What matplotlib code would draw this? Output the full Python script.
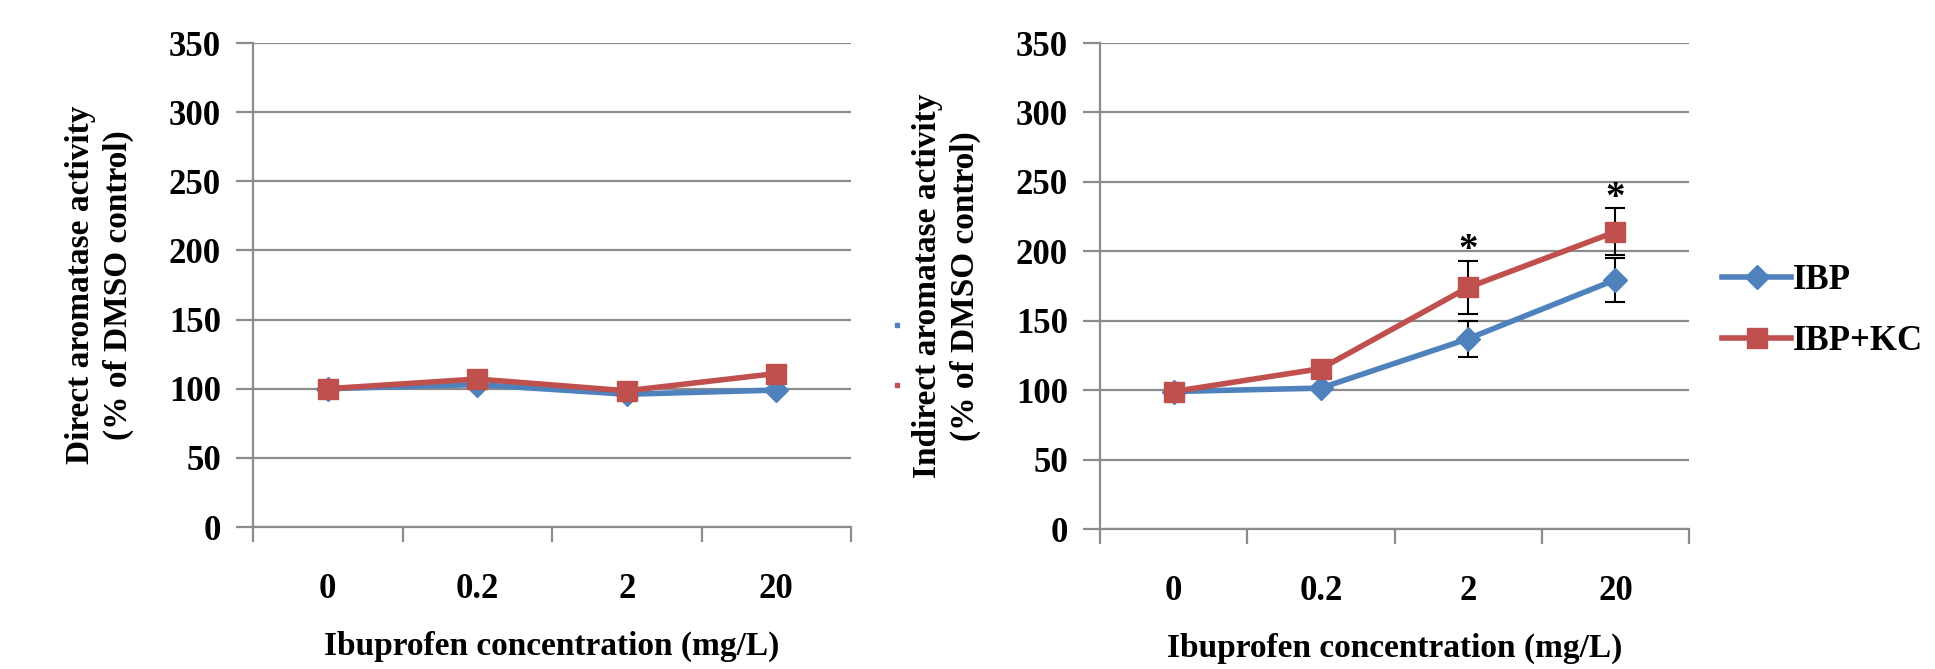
import numpy as np
import matplotlib
matplotlib.use("Agg")
import matplotlib.pyplot as plt
from matplotlib.lines import Line2D

plt.rcParams['font.family'] = ['Liberation Serif', 'DejaVu Serif']
plt.rcParams['font.weight'] = 'bold'

conc = ['0', '0.2', '2', '20']

# direct (left panel)
direct_ibp = [100, 103, 96, 99]
direct_kc = [100, 107, 98.5, 111]

# indirect (right panel)
indirect_ibp = [99, 101.5, 137, 179.5]
indirect_ibp_err = [0, 0, 13, 16]
indirect_kc = [99, 115.5, 174, 214]
indirect_kc_err = [0, 0, 19, 17]
star_idx = [2, 3]

blue = '#4F81BD'
red = '#C0504D'
grid_c = '#8C8C8C'

fig = plt.figure(figsize=(19.35, 6.69), dpi=100)
ax1 = fig.add_axes([253/1935, 142/669, 598/1935, 484/669])
ax2 = fig.add_axes([1100/1935, 140/669, 589/1935, 486/669])


def style(ax, ylab):
    x = np.arange(len(conc))
    ax.set_xlim(-0.5, len(conc) - 0.5)
    ax.set_ylim(0, 350)
    ax.set_yticks(np.arange(0, 351, 50))
    ax.yaxis.grid(True, color=grid_c, linewidth=1.6)
    ax.set_axisbelow(True)
    ax.set_xticks(np.arange(-0.5, len(conc)), minor=False)
    ax.set_xticklabels([])
    ax.set_xticks(x, minor=True)
    ax.set_xticklabels(conc, minor=True)
    ax.tick_params(axis='x', which='major', length=11, width=1.6, color=grid_c)
    ax.tick_params(axis='x', which='minor', length=0, pad=33, labelsize=25)
    ax.tick_params(axis='y', length=12, width=1.6, color=grid_c, pad=11, labelsize=25)
    for s in ['top', 'right']:
        ax.spines[s].set_visible(False)
    for s in ['left', 'bottom']:
        ax.spines[s].set_color(grid_c)
        ax.spines[s].set_linewidth(1.6)
    ax.set_ylabel(ylab, fontsize=24, fontweight='bold', linespacing=1.3, labelpad=25)
    ax.set_xlabel('Ibuprofen concentration (mg/L)', fontsize=24, fontweight='bold', labelpad=18)
    return x


x = style(ax1, 'Direct aromatase activity\n(% of DMSO control)')
ax1.plot(x, direct_ibp, color=blue, lw=4, marker='D', ms=12, zorder=3)
ax1.plot(x, direct_kc, color=red, lw=4, marker='s', ms=14, zorder=4)

x = style(ax2, 'Indirect aromatase activity\n(% of DMSO control)')
ax2.errorbar(x, indirect_ibp, yerr=indirect_ibp_err, color=blue, lw=4, marker='D', ms=12,
             ecolor='black', elinewidth=1.5, capsize=7, capthick=1.5, zorder=3, label='IBP')
ax2.errorbar(x, indirect_kc, yerr=indirect_kc_err, color=red, lw=4, marker='s', ms=14,
             ecolor='black', elinewidth=1.5, capsize=7, capthick=1.5, zorder=4, label='IBP+KC')
for i in star_idx:
    ax2.text(x[i], indirect_kc[i] + indirect_kc_err[i] - 6, '*', ha='center', va='bottom',
             fontsize=28, fontweight='bold')

handles = [Line2D([], [], color=blue, lw=4, marker='D', ms=12),
           Line2D([], [], color=red, lw=4, marker='s', ms=14)]
fig.legend(handles, ['IBP', 'IBP+KC'], loc='center left', bbox_to_anchor=(1722/1935, 0.535),
           frameon=False, fontsize=25, handlelength=2.0, handletextpad=0.05, labelspacing=0.8,
           borderaxespad=0, borderpad=0)

# stubs of the left chart's legend peeking out behind the right chart
fig.add_artist(Line2D([897/1935], [1 - 325/669], transform=fig.transFigure,
                      marker='s', ms=3.5, color=blue, lw=0))
fig.add_artist(Line2D([897/1935], [1 - 385/669], transform=fig.transFigure,
                      marker='s', ms=3.5, color=red, lw=0))

fig.savefig('out.png', dpi=100)
